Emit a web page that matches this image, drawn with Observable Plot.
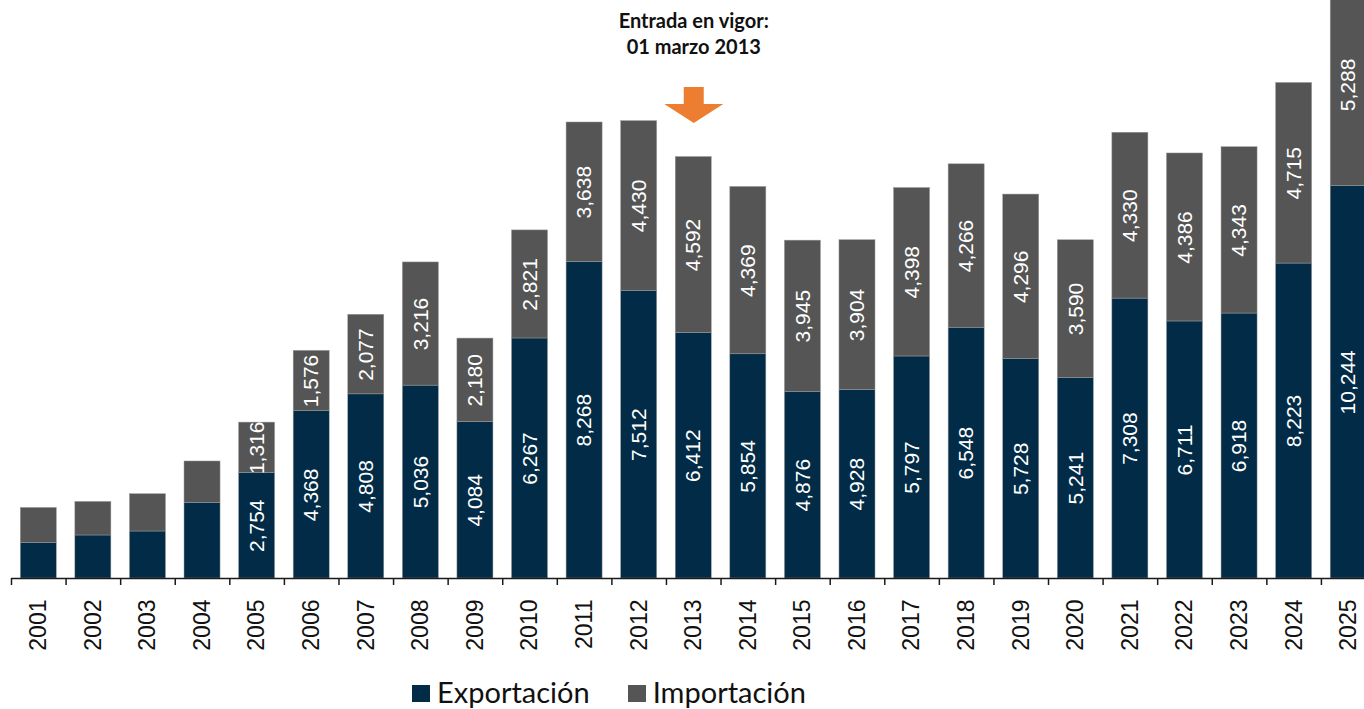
<!DOCTYPE html>
<html>
<head>
<meta charset="utf-8">
<script src="https://cdn.jsdelivr.net/npm/d3@7"></script>
<script src="https://cdn.jsdelivr.net/npm/@observablehq/plot@0.6"></script>
<style>
  html, body { margin: 0; padding: 0; background: white; overflow: hidden; }
  #chart { position: absolute; left: 0; top: 0; }
  #legend { position: absolute; left: 412px; top: 674px; display: flex; align-items: center;
            font-family: Lato, "Open Sans", sans-serif; font-size: 29px; color: #111; white-space: nowrap; }
  .sw { display: inline-block; width: 18px; height: 17px; margin-right: 7px; margin-top: 4px; }
  .item { display: flex; align-items: center; margin-right: 38px; }
</style>
</head>
<body>
<div id="chart"></div>
<div id="legend"></div>
<script>
// ---- data ----
const years = ["2001","2002","2003","2004","2005","2006","2007","2008","2009","2010","2011","2012","2013",
               "2014","2015","2016","2017","2018","2019","2020","2021","2022","2023","2024","2025"];
const exportVals = [930, 1123, 1227, 1974, 2754, 4368, 4808, 5036, 4084, 6267, 8268, 7512, 6412,
                    5854, 4876, 4928, 5797, 6548, 5728, 5241, 7308, 6711, 6918, 8223, 10244];
const importVals = [913, 877, 974, 1081, 1316, 1576, 2077, 3216, 2180, 2821, 3638, 4430, 4592,
                    4369, 3945, 3904, 4398, 4266, 4296, 3590, 4330, 4386, 4343, 4715, 5288];
const labelledFrom = "2005";
const seriesNames = ["Exportación", "Importación"];
const seriesColors = ["#012b46", "#555555"];
const annotationYear = "2013";
const annotationText = "Entrada en vigor:\n01 marzo 2013";

// ---- layout ----
const W = 1364, H = 660, baseline = 578;
const mLeft = 11, mRight = -11.5;
const yMax = 15091;
const step = (W - mRight - mLeft) / years.length;
const pxPerUnit = baseline / yMax;

const segs = [];
years.forEach((yr, i) => {
  segs.push({year: yr, series: seriesNames[0], y1: 0, y2: exportVals[i], v: exportVals[i]});
  segs.push({year: yr, series: seriesNames[1], y1: exportVals[i], y2: exportVals[i] + importVals[i], v: importVals[i]});
});
const labelled = segs.filter(d => d.year >= labelledFrom);
const fmt = d3.format(",");

// custom arrow symbol (stem + head pointing down), r = 18 -> unit scale
const arrowSymbol = {
  draw(ctx, size) {
    const s = Math.sqrt(size / Math.PI) / 18;
    ctx.moveTo(-10 * s, -18 * s);
    ctx.lineTo(10 * s, -18 * s);
    ctx.lineTo(10 * s, -1 * s);
    ctx.lineTo(29.5 * s, -1 * s);
    ctx.lineTo(0, 18 * s);
    ctx.lineTo(-29.5 * s, -1 * s);
    ctx.lineTo(-10 * s, -1 * s);
    ctx.closePath();
  }
};
const annIdx = years.indexOf(annotationYear);
const annTotal = exportVals[annIdx] + importVals[annIdx];

const chart = Plot.plot({
  width: W,
  height: H,
  marginLeft: mLeft,
  marginRight: mRight,
  marginTop: 0,
  marginBottom: H - baseline,
  style: {background: "white", fontFamily: "'Liberation Sans', Arial, sans-serif", fontSize: "23px", color: "#111", overflow: "visible"},
  x: {domain: years, paddingInner: 0.34, paddingOuter: 0.17, round: false, tickRotate: -90, tickSize: 0, tickPadding: 21, label: null},
  y: {domain: [0, yMax], axis: null},
  color: {domain: seriesNames, range: seriesColors},
  marks: [
    Plot.barY(segs, {x: "year", y1: "y1", y2: "y2", fill: "series", stroke: "#9a9a9a", strokeWidth: 0.5}),
    Plot.text(labelled, {x: "year", y: d => (d.y1 + d.y2) / 2, text: d => fmt(d.v), rotate: -90,
                         fill: "white", fontSize: 21}),
    Plot.ruleY([0], {stroke: "#1a1a1a", strokeWidth: 1.5}),
    Plot.ruleX(years, {x: d => d, y1: 0, y2: -7 / pxPerUnit, dx: -step / 2, stroke: "#1a1a1a", strokeWidth: 1.5}),
    Plot.dot([annTotal], {x: () => annotationYear, y: d => d, r: 18, symbol: arrowSymbol,
                          fill: "#ed7d31", stroke: "none", dy: -52}),
    Plot.text([annotationText], {x: () => annotationYear, frameAnchor: "top", lineAnchor: "top", dy: 9,
                                 text: d => d, fontWeight: "bold", fontSize: 20, lineHeight: 1.3,
                                 fontFamily: "Lato, 'Open Sans', sans-serif", fill: "#111"})
  ]
});
document.getElementById("chart").appendChild(chart);

const legend = document.getElementById("legend");
seriesNames.forEach((name, i) => {
  const item = document.createElement("span");
  item.className = "item";
  const sw = document.createElement("span");
  sw.className = "sw";
  sw.style.background = seriesColors[i];
  item.appendChild(sw);
  item.appendChild(document.createTextNode(name));
  legend.appendChild(item);
});
</script>
</body>
</html>
